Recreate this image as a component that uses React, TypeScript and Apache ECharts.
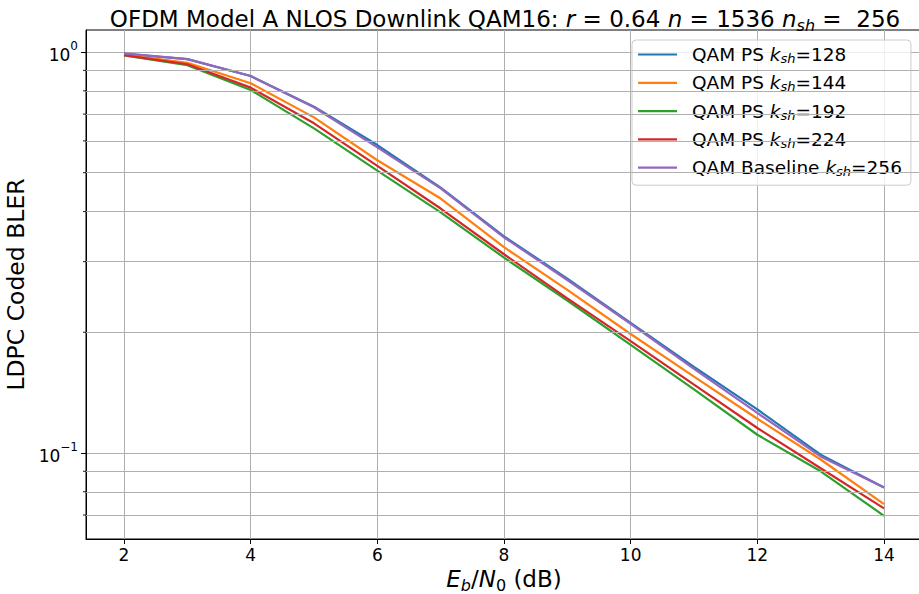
import React, { useEffect, useRef } from 'react';
import * as echarts from 'echarts';

const FONT = '"DejaVu Sans", sans-serif';

const ebn0 = [2, 3, 4, 5, 6, 7, 8, 9, 10, 11, 12, 13, 14];
const blerPs128 = [0.990, 0.960, 0.871, 0.730, 0.586, 0.459, 0.347, 0.272, 0.211, 0.164, 0.1284, 0.0990, 0.0820];
const blerPs144 = [0.985, 0.940, 0.836, 0.687, 0.537, 0.431, 0.326, 0.255, 0.198, 0.155, 0.1217, 0.0963, 0.0745];
const blerPs192 = [0.980, 0.927, 0.804, 0.645, 0.506, 0.398, 0.307, 0.240, 0.186, 0.144, 0.1110, 0.0900, 0.0697];
const blerPs224 = [0.982, 0.932, 0.815, 0.664, 0.520, 0.407, 0.313, 0.243, 0.190, 0.148, 0.1154, 0.0916, 0.0727];
const blerBase256 = [0.992, 0.960, 0.871, 0.728, 0.578, 0.457, 0.345, 0.270, 0.210, 0.162, 0.1258, 0.0980, 0.0820];

const seriesNames = ['QAM PS k_sh=128', 'QAM PS k_sh=144', 'QAM PS k_sh=192', 'QAM PS k_sh=224', 'QAM Baseline k_sh=256'];
const legendLabels = [
  '{n|QAM PS }{i|k}{s|sh}{n|=128}',
  '{n|QAM PS }{i|k}{s|sh}{n|=144}',
  '{n|QAM PS }{i|k}{s|sh}{n|=192}',
  '{n|QAM PS }{i|k}{s|sh}{n|=224}',
  '{n|QAM Baseline }{i|k}{s|sh}{n|=256}',
];
const seriesColors = ['#1f77b4', '#ff7f0e', '#2ca02c', '#d62728', '#9467bd'];
const seriesValues = [blerPs128, blerPs144, blerPs192, blerPs224, blerBase256];

const xTickValues = [2, 4, 6, 8, 10, 12, 14];
const yTickValues = [0.1, 1];
const yMinorValues = [0.07, 0.08, 0.09, 0.2, 0.3, 0.4, 0.5, 0.6, 0.7, 0.8, 0.9];

const X_MIN = 1.4;
const X_MAX = 14.6;
const Y_MIN = 0.061;
const Y_MAX = 1.1346;

export default function App() {
  const ref = useRef<HTMLDivElement>(null);

  useEffect(() => {
    document.body.style.margin = '0';
    const chart = echarts.init(ref.current!, null, { renderer: 'svg' });

    const lineSeries = seriesNames.map((name, k) => ({
      type: 'line',
      name,
      data: ebn0.map((x, i) => [x, seriesValues[k][i]]),
      showSymbol: false,
      symbol: 'none',
      lineStyle: { width: 2.2, color: seriesColors[k] },
      itemStyle: { color: seriesColors[k] },
      z: 3,
    }));

    const option: any = {
      animation: false,
      grid: {
        left: 86,
        right: -3,
        top: 30,
        bottom: 55,
        show: true,
        borderColor: '#000',
        borderWidth: 1,
        containLabel: false,
        outerBoundsMode: 'none',
      },
      xAxis: {
        type: 'value',
        min: X_MIN,
        max: X_MAX,
        splitNumber: 6,
        axisLine: { show: true, onZero: false, lineStyle: { color: '#000', width: 1 } },
        axisTick: { show: true, inside: false, length: 5, customValues: xTickValues, lineStyle: { color: '#000', width: 1 } },
        axisLabel: {
          customValues: xTickValues,
          margin: 7,
          fontSize: 17,
          fontFamily: FONT,
          color: '#000',
          formatter: (v: number) => (Math.abs(v - Math.round(v)) < 1e-6 && xTickValues.includes(Math.round(v)) ? String(Math.round(v)) : ''),
        },
        splitLine: { show: true, lineStyle: { color: '#b0b0b0', width: 1 } },
        name: '{i|E}{s|b}{n|/}{i|N}{s0|0}{n| (dB)}',
        nameLocation: 'middle',
        nameGap: 22,
        nameTextStyle: {
          fontFamily: FONT,
          fontSize: 23,
          color: '#000',
          rich: {
            n: { fontFamily: FONT, fontSize: 23, color: '#000', lineHeight: 28 },
            i: { fontFamily: FONT, fontSize: 23, fontStyle: 'italic', color: '#000', lineHeight: 28 },
            s: { fontFamily: FONT, fontSize: 16, fontStyle: 'italic', color: '#000', verticalAlign: 'bottom', lineHeight: 16 },
            s0: { fontFamily: FONT, fontSize: 16, color: '#000', verticalAlign: 'bottom', lineHeight: 16 },
          },
        },
      },
      yAxis: {
        type: 'log',
        logBase: 10,
        min: Y_MIN,
        max: Y_MAX,
        axisLine: { show: true, onZero: false, lineStyle: { color: '#000', width: 1 } },
        axisTick: { show: true, inside: false, length: 5, customValues: yTickValues, lineStyle: { color: '#000', width: 1 } },
        axisLabel: {
          customValues: yTickValues,
          margin: 8,
          fontFamily: FONT,
          color: '#000',
          formatter: (v: number) => {
            const l = Math.log10(v);
            const e = Math.round(l);
            if (Math.abs(l - e) > 1e-6) return '';
            return `{b|10}{p|${e < 0 ? '\u2212' + -e : e}}`;
          },
          rich: {
            b: { fontFamily: FONT, fontSize: 17, color: '#000', lineHeight: 24, verticalAlign: 'bottom' },
            p: { fontFamily: FONT, fontSize: 12, color: '#000', verticalAlign: 'top', lineHeight: 14 },
          },
        },
        splitLine: { show: true, lineStyle: { color: '#b0b0b0', width: 1 } },
        name: 'LDPC Coded BLER',
        nameLocation: 'middle',
        nameGap: 46,
        nameTextStyle: { fontFamily: FONT, fontSize: 23.5, color: '#000' },
      },
      legend: {
        data: seriesNames,
        orient: 'vertical',
        left: 632,
        top: 40,
        padding: [5, 9, 7, 6],
        itemGap: 8.3,
        itemWidth: 39,
        itemHeight: 2.2,
        icon: 'rect',
        backgroundColor: 'rgba(255,255,255,0.8)',
        borderColor: '#cccccc',
        borderWidth: 1,
        borderRadius: 4,
        formatter: (name: string) => legendLabels[seriesNames.indexOf(name)],
        textStyle: {
          fontFamily: FONT,
          fontSize: 18.5,
          color: '#000',
          padding: [0, 0, 0, 10],
          rich: {
            n: { fontFamily: FONT, fontSize: 18.5, color: '#000', lineHeight: 21 },
            i: { fontFamily: FONT, fontSize: 18.5, fontStyle: 'italic', color: '#000', lineHeight: 21 },
            s: { fontFamily: FONT, fontSize: 13, fontStyle: 'italic', color: '#000', verticalAlign: 'bottom', lineHeight: 13 },
          },
        },
      },
      graphic: [
        {
          type: 'text',
          x: 505,
          y: 19,
          style: {
            text: '{n|OFDM Model A NLOS Downlink QAM16: }{i|r}{n| = 0.64 }{i|n}{n| = 1536 }{i|n}{s|sh}{n| =  256}',
            align: 'center',
            verticalAlign: 'middle',
            fontFamily: FONT,
            fontSize: 23,
            fill: '#000',
            rich: {
              n: { fontFamily: FONT, fontSize: 23, fill: '#000', lineHeight: 28 },
              i: { fontFamily: FONT, fontSize: 23, fontStyle: 'italic', fill: '#000', lineHeight: 28 },
              s: { fontFamily: FONT, fontSize: 16, fontStyle: 'italic', fill: '#000', verticalAlign: 'bottom', lineHeight: 16 },
            },
          },
        },
      ],
      series: [
        {
          type: 'line',
          name: 'minor-grid',
          data: [],
          z: 1,
          silent: true,
          markLine: {
            silent: true,
            symbol: ['none', 'none'],
            label: { show: false },
            lineStyle: { color: '#b0b0b0', width: 1, type: 'solid' },
            data: yMinorValues.map((v) => ({ yAxis: v })),
          },
        },
        ...lineSeries,
      ],
    };

    chart.setOption(option);

    const x0 = chart.convertToPixel({ xAxisIndex: 0 }, X_MIN) as number;
    const minorTicks = yMinorValues.map((v) => {
      const y = chart.convertToPixel({ yAxisIndex: 0 }, v) as number;
      return {
        type: 'line',
        shape: { x1: x0 - 3, y1: y, x2: x0, y2: y },
        style: { stroke: '#000', lineWidth: 0.9 },
        silent: true,
      };
    });
    chart.setOption({ graphic: [option.graphic[0], ...minorTicks] });

    return () => chart.dispose();
  }, []);

  return <div ref={ref} style={{ width: 919, height: 594 }} />;
}
